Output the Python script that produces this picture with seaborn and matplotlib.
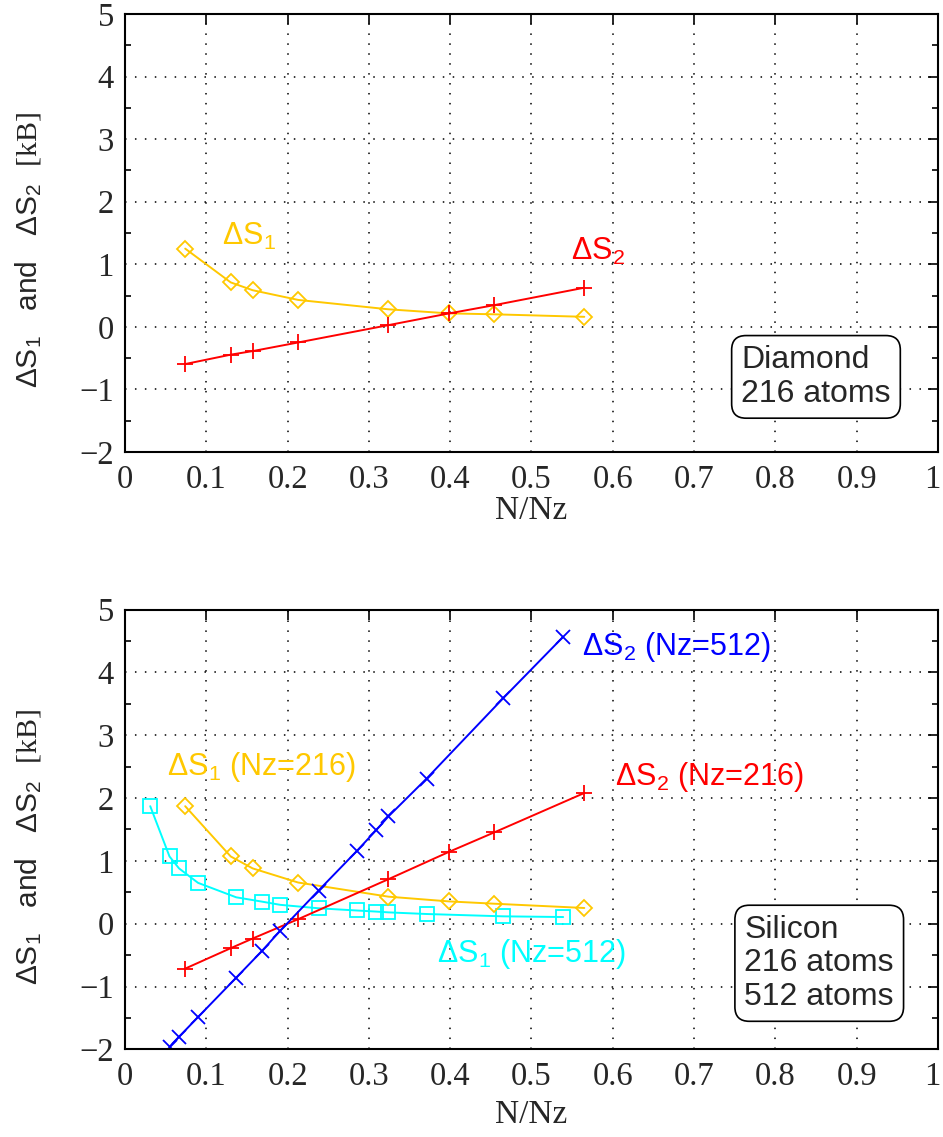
import matplotlib
matplotlib.use("Agg")
import matplotlib.pyplot as plt
import matplotlib.transforms as mtransforms
import seaborn as sns
import numpy as np

# ---------------- data ----------------
dia_x = [0.074, 0.130, 0.157, 0.213, 0.324, 0.398, 0.454, 0.565]
dia_s1 = [1.25, 0.71, 0.585, 0.43, 0.28, 0.215, 0.20, 0.16]
dia_s2 = [-0.595, -0.445, -0.388, -0.25, 0.027, 0.213, 0.346, 0.625]

si216_x = [0.074, 0.130, 0.157, 0.213, 0.324, 0.398, 0.454, 0.565]
si216_s1 = [1.87, 1.07, 0.88, 0.655, 0.43, 0.355, 0.318, 0.25]
si216_s2 = [-0.715, -0.39, -0.236, 0.072, 0.708, 1.14, 1.452, 2.08]

si512_x1 = [0.031, 0.0547, 0.0664, 0.0898, 0.1367, 0.168, 0.191, 0.238,
            0.285, 0.3086, 0.324, 0.371, 0.465, 0.539]
si512_s1 = [1.87, 1.07, 0.88, 0.65, 0.42, 0.352, 0.30, 0.245,
            0.21, 0.193, 0.18, 0.154, 0.117, 0.106]
si512_x2 = [0.0547, 0.0664, 0.0898, 0.1367, 0.168, 0.191, 0.238,
            0.285, 0.3086, 0.324, 0.371, 0.465, 0.539]
si512_s2 = [-1.96, -1.80, -1.487, -0.86, -0.44, -0.111, 0.527,
            1.155, 1.484, 1.707, 2.31, 3.586, 4.566]

x_ticks = [0, 0.1, 0.2, 0.3, 0.4, 0.5, 0.6, 0.7, 0.8, 0.9, 1]
x_ticklabels = ["0", "0.1", "0.2", "0.3", "0.4", "0.5", "0.6", "0.7", "0.8", "0.9", "1"]
y_ticks = [-2, -1, 0, 1, 2, 3, 4, 5]
y_ticklabels = ["\u22122", "\u22121", "0", "1", "2", "3", "4", "5"]

# ---------------- style ----------------
sns.set_style("white")
plt.rcParams["font.family"] = ["Liberation Sans", "DejaVu Sans"]
plt.rcParams["mathtext.fontset"] = "custom"
plt.rcParams["mathtext.rm"] = "Liberation Serif"
plt.rcParams["mathtext.sf"] = "Liberation Sans"
plt.rcParams["mathtext.default"] = "regular"

GOLD = "#FFC800"
RED = "#FF0000"
BLUE = "#0000FF"
CYAN = "#00FFFF"
SERIF = "Liberation Serif"
SANS = "Liberation Sans"

fig = plt.figure(figsize=(9.43, 11.37), dpi=100)
ax1 = fig.add_axes([0.1326, 0.6025, 0.862, 0.3852])
ax2 = fig.add_axes([0.1326, 0.0771, 0.862, 0.3868])


def style_axes(ax):
    ax.set_xlim(0, 1)
    ax.set_ylim(-2, 5)
    ax.set_xticks(x_ticks)
    ax.set_xticklabels(x_ticklabels, fontfamily=SERIF, fontsize=23.5)
    ax.set_yticks(y_ticks)
    ax.set_yticklabels(y_ticklabels, fontfamily=SERIF, fontsize=23.5)
    ax.set_yticks(np.arange(-1.5, 5, 1.0), minor=True)
    ax.tick_params(which="major", direction="in", length=7, width=1.2,
                   top=True, right=True, color="black")
    ax.tick_params(which="minor", direction="in", length=4, width=1.2,
                   left=True, right=True, color="black")
    ax.tick_params(axis="x", which="major", pad=9)
    ax.tick_params(axis="y", which="major", pad=8)
    ax.grid(True, which="major", color="black", linestyle=(0, (1, 5.5)), linewidth=1.1)
    for sp in ax.spines.values():
        sp.set_color("black")
        sp.set_linewidth(1.5)
        sp.set_visible(True)
    # keep the last x tick label ("1") inside the figure edge
    last = ax.get_xticklabels()[-1]
    last.set_transform(last.get_transform() +
                       mtransforms.ScaledTranslation(-6 / 100, 0, fig.dpi_scale_trans))
    ax.set_xlabel("N/Nz", fontfamily=SERIF, fontsize=24)
    ax.set_ylabel(r"$\Delta$S$_1$   and   $\Delta$S$_2$  $\mathrm{[kB]}$",
                  fontfamily=SANS, fontsize=21.5)
    ax.yaxis.set_label_coords(-0.10, 0.46)


def draw(ax, x, y, color, marker, ms, mew=1.3):
    sns.lineplot(x=x, y=y, ax=ax, color=color, marker=marker, markersize=ms,
                 markerfacecolor="none", markeredgecolor=color,
                 markeredgewidth=mew, linewidth=1.4, sort=False,
                 estimator=None, legend=False)


# ---------------- top: diamond ----------------
draw(ax1, dia_x, dia_s1, GOLD, "D", 8.5)
draw(ax1, dia_x, dia_s2, RED, "+", 12)
style_axes(ax1)
ax1.xaxis.set_label_coords(0.5, -0.10)
ax1.text(0.119, 1.31, r"$\Delta$S$_1$", color=GOLD, fontsize=22, fontfamily=SANS)
ax1.text(0.549, 1.07, r"$\Delta$S$_2$", color=RED, fontsize=22, fontfamily=SANS)
ax1.text(0.850, -0.80, "Diamond\n216 atoms", ha="center", va="center",
         multialignment="left", fontsize=23, fontfamily=SANS, linespacing=1.15,
         bbox=dict(boxstyle="round,pad=0.3,rounding_size=0.45", fc="white",
                   ec="black", lw=1.2))

# ---------------- bottom: silicon ----------------
draw(ax2, si512_x1, si512_s1, CYAN, "s", 10)
draw(ax2, si216_x, si216_s1, GOLD, "D", 8.5)
draw(ax2, si216_x, si216_s2, RED, "+", 12)
draw(ax2, si512_x2, si512_s2, BLUE, "x", 10.5)
style_axes(ax2)
ax2.xaxis.set_label_coords(0.5, -0.115)
ax2.text(0.5617, 4.275, r"$\Delta$S$_2$ (Nz=512)", color=BLUE, fontsize=22, fontfamily=SANS)
ax2.text(0.6027, 2.206, r"$\Delta$S$_2$ (Nz=216)", color=RED, fontsize=22, fontfamily=SANS)
ax2.text(0.052, 2.36, r"$\Delta$S$_1$ (Nz=216)", color=GOLD, fontsize=22, fontfamily=SANS)
ax2.text(0.384, -0.616, r"$\Delta$S$_1$ (Nz=512)", color=CYAN, fontsize=22, fontfamily=SANS)
ax2.text(0.854, -0.63, "Silicon\n216 atoms\n512 atoms", ha="center", va="center",
         multialignment="left", fontsize=23, fontfamily=SANS, linespacing=1.15,
         bbox=dict(boxstyle="round,pad=0.3,rounding_size=0.45", fc="white",
                   ec="black", lw=1.2))

fig.savefig("out.png", dpi=100)
